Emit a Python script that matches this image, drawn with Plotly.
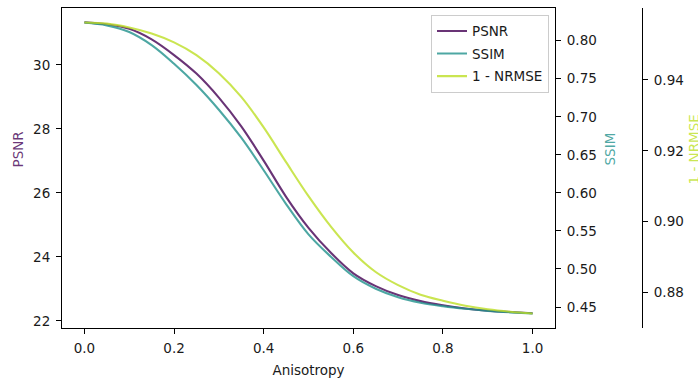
import plotly.graph_objects as go

anisotropy = [0.00, 0.05, 0.10, 0.15, 0.20, 0.25, 0.30, 0.35, 0.40, 0.45, 0.50,
              0.55, 0.60, 0.65, 0.70, 0.75, 0.80, 0.85, 0.90, 0.95, 1.00]
psnr = [31.33, 31.27, 31.13, 30.80, 30.31, 29.73, 28.98, 28.08, 27.01, 25.88, 24.91,
        24.13, 23.49, 23.09, 22.81, 22.62, 22.49, 22.39, 22.32, 22.28, 22.24]
ssim = [0.8240, 0.8202, 0.8114, 0.7942, 0.7697, 0.7418, 0.7093, 0.6725, 0.6297, 0.5853, 0.5455,
        0.5161, 0.4905, 0.4740, 0.4629, 0.4557, 0.4511, 0.4476, 0.4449, 0.4430, 0.4415]
one_minus_nrmse = [0.9562, 0.9559, 0.9548, 0.9531, 0.9506, 0.9470, 0.9419, 0.9352, 0.9266, 0.9168, 0.9072,
                   0.8986, 0.8913, 0.8858, 0.8821, 0.8794, 0.8777, 0.8763, 0.8753, 0.8746, 0.8741]

x_ticks = [0.0, 0.2, 0.4, 0.6, 0.8, 1.0]
psnr_ticks = [22, 24, 26, 28, 30]
ssim_ticks = [0.45, 0.50, 0.55, 0.60, 0.65, 0.70, 0.75, 0.80]
nrmse_ticks = [0.88, 0.90, 0.92, 0.94]

C_PSNR = "rgba(68,1,84,0.8)"
C_SSIM = "rgba(33,145,140,0.8)"
C_NRMSE = "rgba(189,223,38,0.8)"
TXT = "#1a1a1a"
FONT = "DejaVu Sans"
FS = 13.5

W, H = 698, 380
L, R, T, B = 62, 555, 8, 328
AX3 = 642

fig = go.Figure()
fig.add_trace(go.Scatter(x=anisotropy, y=psnr, name="PSNR", mode="lines", legendgroup="a",
                         line=dict(color=C_PSNR, width=2.1, shape="spline", smoothing=1.0), yaxis="y"))
fig.add_trace(go.Scatter(x=anisotropy, y=ssim, name="SSIM", mode="lines", legendgroup="b",
                         line=dict(color=C_SSIM, width=2.1, shape="spline", smoothing=1.0), yaxis="y2"))
fig.add_trace(go.Scatter(x=anisotropy, y=one_minus_nrmse, name="1 - NRMSE", mode="lines", legendgroup="c",
                         line=dict(color=C_NRMSE, width=2.1, shape="spline", smoothing=1.0), yaxis="y3"))

axis_common = dict(showgrid=False, zeroline=False, showline=True, linecolor="black", linewidth=1.1,
                   ticks="outside", ticklen=5, tickwidth=1.1, tickcolor="black", ticklabelstandoff=3,
                   tickfont=dict(family=FONT, size=FS, color=TXT))

mid_y = (H - (T + B) / 2) / H

fig.update_layout(
    width=W, height=H,
    margin=dict(l=0, r=0, t=T, b=H - B, pad=0),
    paper_bgcolor="white", plot_bgcolor="white",
    font=dict(family=FONT, size=FS, color=TXT),
    xaxis=dict(domain=[L / W, R / W], range=[-0.05, 1.05], tickvals=x_ticks,
               ticktext=[f"{v:.1f}" for v in x_ticks], mirror=True,
               title=dict(text="Anisotropy", font=dict(family=FONT, size=FS, color=TXT), standoff=10),
               **axis_common),
    yaxis=dict(range=[21.78, 31.78], tickvals=psnr_ticks, ticktext=[str(v) for v in psnr_ticks],
               **axis_common),
    yaxis2=dict(range=[0.4224, 0.843], tickvals=ssim_ticks, ticktext=[f"{v:.2f}" for v in ssim_ticks],
                overlaying="y", side="right", anchor="x", **axis_common),
    yaxis3=dict(range=[0.8700, 0.9603], tickvals=nrmse_ticks, ticktext=[f"{v:.2f}" for v in nrmse_ticks],
                overlaying="y", side="right", anchor="free", position=AX3 / W, **axis_common),
    showlegend=True,
    legend=dict(x=549 / W, y=1 - 8 / H, xanchor="right", yanchor="top",
                bgcolor="rgba(255,255,255,0.8)", bordercolor="#cccccc", borderwidth=1,
                font=dict(family=FONT, size=FS, color=TXT), tracegroupgap=2, itemwidth=30),
    annotations=[
        dict(text="PSNR", x=18 / W, y=mid_y, xref="paper", yref="paper",
             textangle=-90, showarrow=False, xanchor="center", yanchor="middle",
             font=dict(family=FONT, size=FS, color=C_PSNR)),
        dict(text="SSIM", x=610 / W, y=mid_y, xref="paper", yref="paper",
             textangle=-90, showarrow=False, xanchor="center", yanchor="middle",
             font=dict(family=FONT, size=FS, color=C_SSIM)),
        dict(text="1 - NRMSE", x=694 / W, y=mid_y, xref="paper", yref="paper",
             textangle=-90, showarrow=False, xanchor="center", yanchor="middle",
             font=dict(family=FONT, size=FS, color=C_NRMSE)),
    ],
)

fig.write_html("out.html")
